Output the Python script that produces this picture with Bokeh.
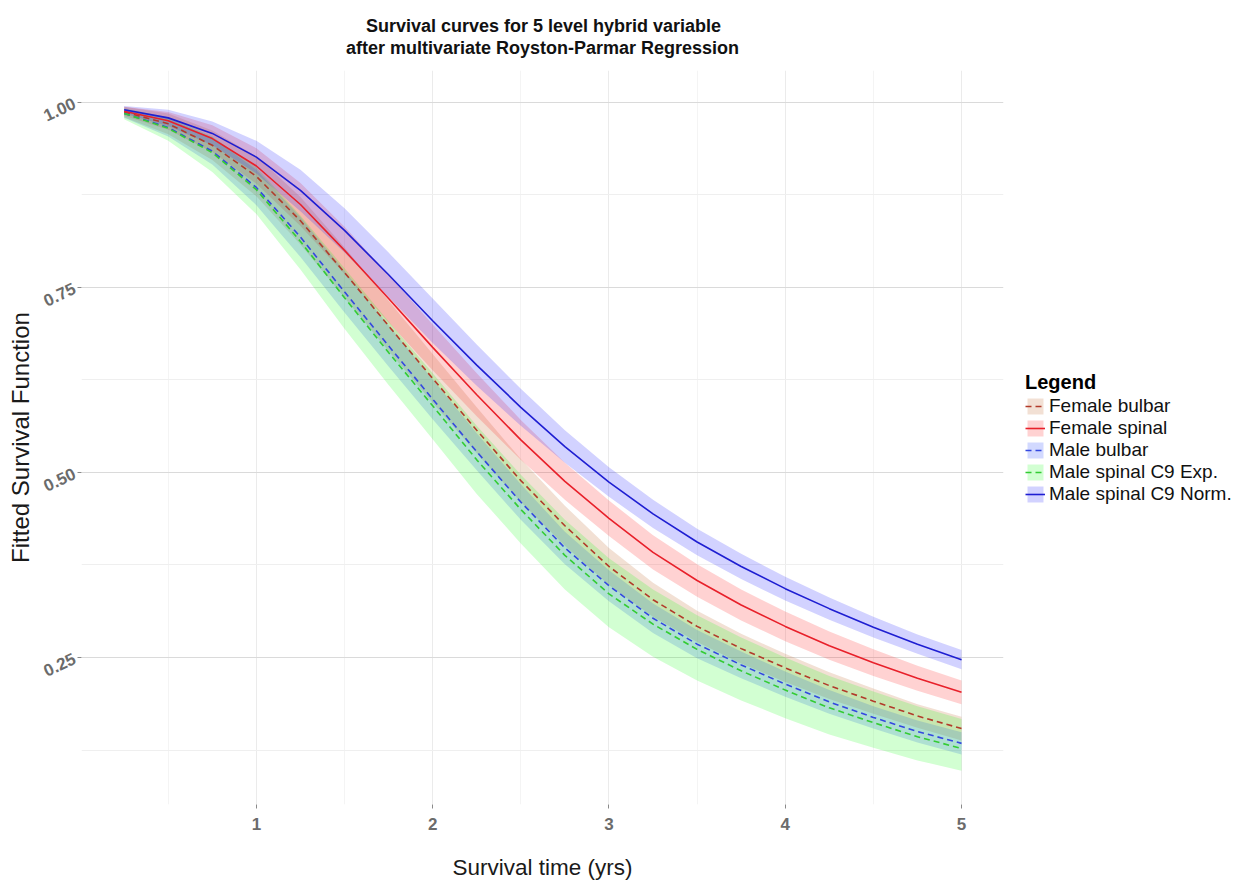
from bokeh.plotting import figure
from bokeh.models import Range1d, FixedTicker, Legend, LegendItem
from bokeh.layouts import row
from bokeh.embed import file_html
from bokeh.resources import INLINE

# ---------------- data ----------------
years = [0.25, 0.5, 0.75, 1.0, 1.25, 1.5, 1.75, 2.0, 2.25, 2.5,
         2.75, 3.0, 3.25, 3.5, 3.75, 4.0, 4.25, 4.5, 4.75, 5.0]

series_names = ["Female bulbar", "Female spinal", "Male bulbar",
                "Male spinal C9 Exp.", "Male spinal C9 Norm."]

female_bulbar = [0.987, 0.971, 0.942, 0.900, 0.840, 0.770, 0.698, 0.627, 0.557, 0.489,
                 0.428, 0.373, 0.328, 0.292, 0.262, 0.236, 0.212, 0.191, 0.171, 0.154]
female_bulbar_lo = [0.980, 0.957, 0.922, 0.873, 0.808, 0.736, 0.664, 0.594, 0.526, 0.460,
                    0.401, 0.348, 0.305, 0.271, 0.242, 0.217, 0.194, 0.174, 0.155, 0.138]
female_bulbar_hi = [0.994, 0.985, 0.962, 0.927, 0.872, 0.804, 0.732, 0.660, 0.588, 0.518,
                    0.455, 0.398, 0.351, 0.313, 0.282, 0.255, 0.230, 0.208, 0.187, 0.170]

female_spinal = [0.988, 0.975, 0.951, 0.914, 0.862, 0.800, 0.735, 0.669, 0.605, 0.544,
                 0.488, 0.438, 0.392, 0.354, 0.321, 0.292, 0.266, 0.243, 0.222, 0.203]
female_spinal_lo = [0.982, 0.963, 0.933, 0.890, 0.833, 0.768, 0.703, 0.638, 0.576, 0.517,
                    0.463, 0.414, 0.369, 0.332, 0.300, 0.272, 0.247, 0.225, 0.205, 0.187]
female_spinal_hi = [0.994, 0.987, 0.969, 0.938, 0.891, 0.832, 0.767, 0.700, 0.634, 0.571,
                    0.513, 0.462, 0.415, 0.376, 0.342, 0.312, 0.285, 0.261, 0.239, 0.219]

male_bulbar = [0.985, 0.966, 0.934, 0.885, 0.818, 0.744, 0.671, 0.599, 0.528, 0.460,
               0.398, 0.347, 0.303, 0.268, 0.240, 0.214, 0.190, 0.169, 0.150, 0.134]
male_bulbar_lo = [0.979, 0.954, 0.916, 0.861, 0.791, 0.716, 0.643, 0.572, 0.503, 0.436,
                  0.376, 0.326, 0.283, 0.249, 0.222, 0.197, 0.174, 0.154, 0.135, 0.119]
male_bulbar_hi = [0.991, 0.978, 0.952, 0.909, 0.845, 0.772, 0.699, 0.626, 0.553, 0.484,
                  0.420, 0.368, 0.323, 0.287, 0.258, 0.231, 0.206, 0.184, 0.165, 0.149]

male_c9_exp = [0.985, 0.965, 0.932, 0.882, 0.812, 0.736, 0.662, 0.590, 0.517, 0.450,
               0.388, 0.336, 0.295, 0.261, 0.232, 0.206, 0.182, 0.162, 0.143, 0.127]
male_c9_exp_lo = [0.977, 0.948, 0.906, 0.849, 0.774, 0.694, 0.618, 0.545, 0.471, 0.404,
                  0.342, 0.291, 0.251, 0.219, 0.192, 0.168, 0.146, 0.128, 0.111, 0.097]
male_c9_exp_hi = [0.992, 0.980, 0.954, 0.912, 0.847, 0.776, 0.704, 0.634, 0.563, 0.497,
                  0.436, 0.384, 0.342, 0.307, 0.277, 0.250, 0.225, 0.204, 0.184, 0.167]

male_c9_norm = [0.990, 0.979, 0.958, 0.926, 0.881, 0.827, 0.767, 0.705, 0.645, 0.588,
                0.535, 0.487, 0.444, 0.406, 0.373, 0.343, 0.316, 0.291, 0.268, 0.247]
male_c9_norm_lo = [0.985, 0.968, 0.942, 0.904, 0.853, 0.797, 0.737, 0.675, 0.617, 0.563,
                   0.513, 0.467, 0.425, 0.388, 0.356, 0.327, 0.301, 0.277, 0.255, 0.234]
male_c9_norm_hi = [0.995, 0.990, 0.974, 0.948, 0.909, 0.857, 0.797, 0.735, 0.673, 0.613,
                   0.557, 0.507, 0.463, 0.424, 0.390, 0.359, 0.331, 0.305, 0.281, 0.260]

x_ticks = [1, 2, 3, 4, 5]
x_minor = [0.5, 1.5, 2.5, 3.5, 4.5]
y_ticks = [0.25, 0.50, 0.75, 1.00]
y_minor = [0.125, 0.375, 0.625, 0.875]
y_tick_labels = {0.25: "0.25", 0.5: "0.50", 0.75: "0.75", 1.0: "1.00"}

title_line1 = "Survival curves for 5 level hybrid variable"
title_line2 = "after multivariate Royston-Parmar Regression"

# ---------------- styling ----------------
line_colors = ["#B23A2A", "#E8202A", "#3347E0", "#33CC33", "#1E1ED2"]
fill_colors = ["#C0642A", "#FF2020", "#2040FF", "#20FF20", "#2020FF"]
dashes = ["6 4", "solid", "6 4", "6 4", "solid"]

values = [female_bulbar, female_spinal, male_bulbar, male_c9_exp, male_c9_norm]
lows = [female_bulbar_lo, female_spinal_lo, male_bulbar_lo, male_c9_exp_lo, male_c9_norm_lo]
highs = [female_bulbar_hi, female_spinal_hi, male_bulbar_hi, male_c9_exp_hi, male_c9_norm_hi]

FONT = "Liberation Sans"
TOTAL_W = 1250
TOTAL_H = 876

p = figure(frame_width=922, frame_height=734, output_backend="svg", toolbar_location=None,
           x_range=Range1d(0.008, 5.238), y_range=Range1d(0.0514, 1.043),
           min_border_left=81, min_border_right=10, min_border_top=67,
           min_border_bottom=TOTAL_H - 67 - 736)
p.outline_line_color = None
p.background_fill_color = "white"

# two-line title, centered over the plotting area (the shorter first line is
# indented with no-break spaces so that both lines appear centered)
p.title.text = "\u00a0\u00a0\u00a0\u00a0" + title_line1 + "\n" + title_line2
p.title.align = "center"
p.title.text_font = FONT
p.title.text_font_size = "18px"
p.title.text_font_style = "bold"
p.title.text_color = "#111111"
p.title.text_line_height = 1.1
p.title.standoff = 26

band_renderers = []
line_renderers = []
for i in range(5):
    b = p.varea(x=years, y1=lows[i], y2=highs[i], fill_color=fill_colors[i], fill_alpha=0.2)
    band_renderers.append(b)
for i in range(5):
    l = p.line(x=years, y=values[i], line_color=line_colors[i], line_width=1.6,
               line_dash=dashes[i])
    line_renderers.append(l)

# axes
p.xaxis.ticker = FixedTicker(ticks=x_ticks, minor_ticks=x_minor)
p.yaxis.ticker = FixedTicker(ticks=y_ticks, minor_ticks=y_minor)
p.yaxis.major_label_overrides = y_tick_labels
for ax in (p.xaxis, p.yaxis):
    ax.axis_line_color = None
    ax.major_tick_in = 0
    ax.major_tick_out = 4
    ax.minor_tick_in = 0
    ax.minor_tick_out = 0
    ax.major_tick_line_color = "#8A8A8A"
    ax.major_label_text_font = FONT
    ax.major_label_text_font_style = "bold"
    ax.major_label_text_color = "#6B6B6B"
    ax.major_label_text_font_size = "17px"
    ax.axis_label_text_font = FONT
    ax.axis_label_text_font_style = "normal"
    ax.axis_label_text_color = "#1A1A1A"
p.xaxis.axis_label = "Survival time (yrs)"
p.yaxis.axis_label = "Fitted Survival Function"
p.xaxis.axis_label_text_font_size = "22.5px"
p.yaxis.axis_label_text_font_size = "24px"
p.xaxis.major_label_standoff = 9
p.xaxis.axis_label_standoff = 22
p.yaxis.major_label_standoff = 3
p.yaxis.axis_label_standoff = 2
p.yaxis.major_label_orientation = 0.44

# grid
p.xgrid.grid_line_color = "#EBEBEB"
p.xgrid.minor_grid_line_color = "#F4F4F4"
p.ygrid.grid_line_color = "#DADADA"
p.ygrid.minor_grid_line_color = "#EFEFEF"

# ---------------- legend panel (second figure on the right) ----------------
# the key glyphs use the same series, but this panel's x range lies beyond the data,
# so only the legend is visible here
p_width = 81 + 922 + 10
q = figure(width=TOTAL_W - p_width, height=TOTAL_H, output_backend="svg",
           toolbar_location=None, x_range=Range1d(10, 11), y_range=Range1d(0, 1),
           min_border=0)
q.axis.visible = False
q.grid.visible = False
q.outline_line_color = None
q.title.visible = False

items = []
for i in range(5):
    kb = q.varea(x=years, y1=lows[i], y2=highs[i], fill_color=fill_colors[i], fill_alpha=0.2)
    kl = q.line(x=years, y=values[i], line_color=line_colors[i], line_width=1.6,
                line_dash=dashes[i])
    items.append(LegendItem(label=series_names[i], renderers=[kb, kl]))

legend = Legend(items=items, title="Legend", location=(12, 293),
                title_text_font=FONT, title_text_font_style="bold",
                title_text_font_size="20px", title_text_color="#000000",
                title_standoff=1,
                label_text_font=FONT, label_text_font_size="19px",
                label_text_color="#111111",
                glyph_width=20, glyph_height=20, label_height=20,
                label_standoff=4, spacing=0, padding=6, margin=0,
                border_line_color=None, background_fill_alpha=0)
q.add_layout(legend, "center")

layout = row(p, q)
open("out.html", "w").write(file_html(layout, INLINE))
